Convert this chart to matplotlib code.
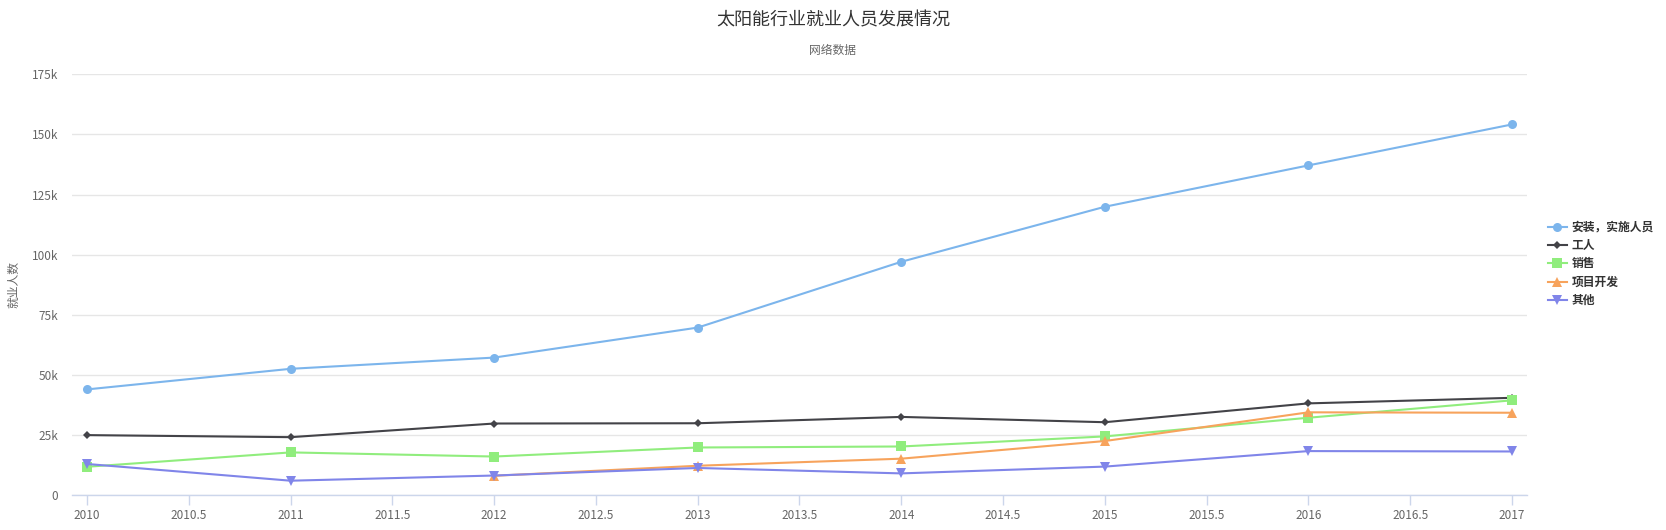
import matplotlib
matplotlib.use("Agg")
import matplotlib.pyplot as plt
from matplotlib.ticker import FuncFormatter, MultipleLocator

plt.rcParams['font.family'] = ['Noto Sans CJK SC', 'DejaVu Sans']

years = [2010, 2011, 2012, 2013, 2014, 2015, 2016, 2017]
series_names = ['安装，实施人员', '工人', '销售', '项目开发', '其他']
install = [43934, 52503, 57177, 69658, 97031, 119931, 137133, 154175]
workers = [24916, 24064, 29742, 29851, 32490, 30282, 38121, 40434]
sales = [11744, 17722, 16005, 19771, 20185, 24377, 32147, 39387]
project_years = [2012, 2013, 2014, 2015, 2016, 2017]
project = [7988, 12169, 15112, 22452, 34400, 34227]
other = [12908, 5948, 8105, 11248, 8989, 11816, 18274, 18111]

colors = ['#7cb5ec', '#434348', '#90ed7d', '#f7a35c', '#8085e9']
markers = ['o', 'D', 's', '^', 'v']
msizes = [6.5, 4.5, 6.5, 6.5, 6.5]

fig = plt.figure(figsize=(16.66, 5.30), dpi=100)
ax = fig.add_axes([72/1666, 1-495/530, (1527-72)/1666, (495-74.4)/530])

data = [(years, install), (years, workers), (years, sales), (project_years, project), (years, other)]
for (xs, ys), name, c, m, ms in zip(data, series_names, colors, markers, msizes):
    ax.plot(xs, ys, color=c, lw=1.5, marker=m, markersize=ms, markeredgewidth=0,
            label=name, solid_joinstyle='round')

ax.set_xlim(2009.926, 2017.074)
ax.set_ylim(0, 175000)
ax.yaxis.set_major_locator(MultipleLocator(25000))
ax.xaxis.set_major_locator(MultipleLocator(0.5))
ax.yaxis.set_major_formatter(FuncFormatter(lambda v, p: '0' if v == 0 else f'{int(v/1000)}k'))
ax.xaxis.set_major_formatter(FuncFormatter(lambda v, p: f'{int(v)}' if v == int(v) else f'{v:g}'))

ax.grid(axis='y', color='#e6e6e6', lw=1)
ax.set_axisbelow(True)
for s in ['top', 'right', 'left']:
    ax.spines[s].set_visible(False)
ax.spines['bottom'].set_color('#ccd6eb')
ax.spines['bottom'].set_linewidth(1)
ax.tick_params(axis='y', length=0, pad=10, labelsize=8.5, labelcolor='#666666')
ax.tick_params(axis='x', length=7, width=1, color='#ccd6eb', pad=3, labelsize=8.5, labelcolor='#666666')

fig.text(14/1666, 1-285/530, '就业人数', rotation=90, ha='center', va='center', fontsize=8.5, color='#666666')
fig.text(0.5, 1-20/530, '太阳能行业就业人员发展情况', ha='center', va='center', fontsize=13, color='#333333')
fig.text(0.5, 1-50/530, '网络数据', ha='center', va='center', fontsize=8.5, color='#666666')

leg = fig.legend(loc='center left', bbox_to_anchor=(1548/1666, 1-264/530), frameon=False,
                 fontsize=8.5, handlelength=1.6, handletextpad=0.4, labelspacing=0.45,
                 borderaxespad=0, borderpad=0)
for t in leg.get_texts():
    t.set_color('#333333')
    t.set_fontweight('bold')

fig.savefig('out.png', dpi=100, facecolor='white')
